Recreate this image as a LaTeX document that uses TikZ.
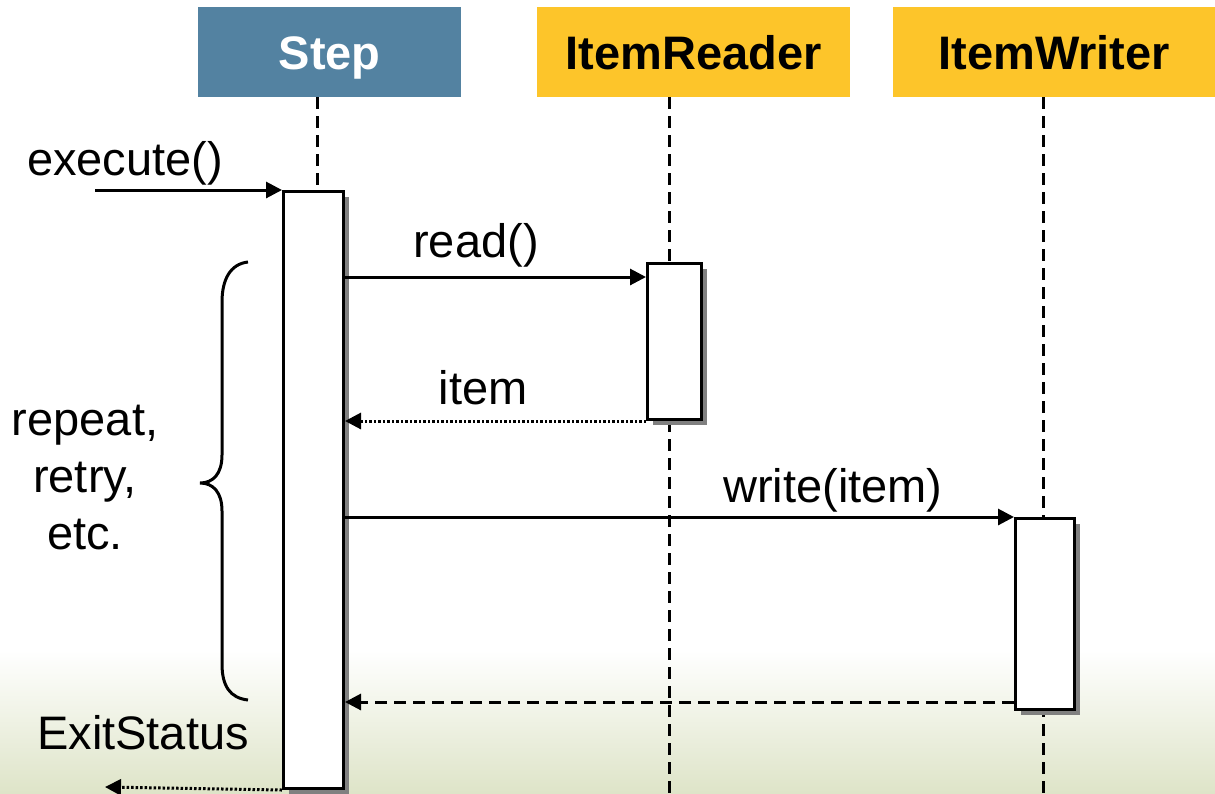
\documentclass[tikz,border=0pt]{standalone}
\usepackage{fontspec}
\setmainfont{Liberation Sans}
\usetikzlibrary{arrows.meta,shadows}
\definecolor{stepblue}{RGB}{83,130,161}
\definecolor{hdryellow}{RGB}{253,197,42}
\definecolor{shgray}{RGB}{128,128,128}
\definecolor{bggreen}{RGB}{222,228,200}
\begin{document}
\begin{tikzpicture}[x=1pt,y=-1pt,
  every node/.style={font=\fontsize{47}{57}\selectfont},
  hdr/.style={rectangle, inner sep=0, minimum height=90pt, anchor=north west, text height=34pt, text depth=0pt, font=\fontsize{47}{57}\selectfont\bfseries},
  lifeline/.style={line width=3pt, dash pattern=on 12pt off 7pt},
  actbox/.style={rectangle, draw=black, fill=white, line width=3pt, inner sep=0, anchor=north west,
     drop shadow={shadow xshift=5pt, shadow yshift=-5pt, fill=shgray, opacity=1}},
  msg/.style={line width=3pt, -{Triangle[length=16pt,width=16pt]}},
  retdot/.style={line width=3pt, dash pattern=on 2.5pt off 2pt, -{Triangle[length=16pt,width=16pt]}},
  retdash/.style={line width=3pt, dash pattern=on 12pt off 7pt, -{Triangle[length=16pt,width=16pt]}},
  lbl/.style={inner sep=0}
]
\useasboundingbox (0,0) rectangle (1215,793);
\shade[top color=white, bottom color=bggreen] (0,650) rectangle (1215,793);
% headers
\node[hdr, fill=stepblue, text=white, minimum width=263pt] (step) at (198,7) {Step};
\node[hdr, fill=hdryellow, minimum width=313pt] (reader) at (537,7) {ItemReader};
\node[hdr, fill=hdryellow, minimum width=322pt] (writer) at (893,7) {ItemWriter};
% lifelines
\coordinate (stepend) at (317,793);
\coordinate (readerend) at (669,793);
\coordinate (writerend) at (1043,793);
\draw[lifeline] (step.south -| stepend) -- (stepend);
\draw[lifeline] (reader.south -| readerend) -- (readerend);
\draw[lifeline] (writer.south -| writerend) -- (writerend);
% activations
\node[actbox, minimum width=60pt, minimum height=597pt] (stepact) at (282,190) {};
\node[actbox, minimum width=54pt, minimum height=156pt] (readact) at (646,262) {};
\node[actbox, minimum width=59pt, minimum height=191pt] (writeact) at (1014,517) {};
% execute
\coordinate (callin) at (95,190);
\draw[msg] (callin) -- (stepact.north west);
\node[lbl] (execlbl) at (125,163) {execute()};
% read
\draw[msg] (stepact.east |- 0,277) -- (readact.west |- 0,277);
\node[lbl] (readlbl) at (476,245) {read()};
% item
\draw[retdot] (readact.south west) -- (stepact.east |- readact.south);
\node[lbl] (itemlbl) at (483,388) {item};
% write
\draw[msg] (stepact.east |- writeact.north) -- (writeact.north west);
\node[lbl] (writelbl) at (833,490) {write(item)};
% return from writer
\draw[retdash] (writeact.west |- 0,702) -- (stepact.east |- 0,702);
% exit status
\coordinate (exitout) at (105,787);
\draw[retdot] (stepact.south west) -- (exitout);
\node[lbl] (exitlbl) at (143,733) {ExitStatus};
% brace
\draw[line width=3pt] (248,262) .. controls (230,264) and (222,280) .. (222,302) -- (222,455)
  .. controls (222,474) and (213,483) .. (200,483)
  .. controls (213,483) and (222,492) .. (222,511) -- (222,664)
  .. controls (222,686) and (230,698) .. (248,700);
\node[lbl, align=center] (replbl) at (85,478) {repeat,\\retry,\\etc.};
\end{tikzpicture}
\end{document}
